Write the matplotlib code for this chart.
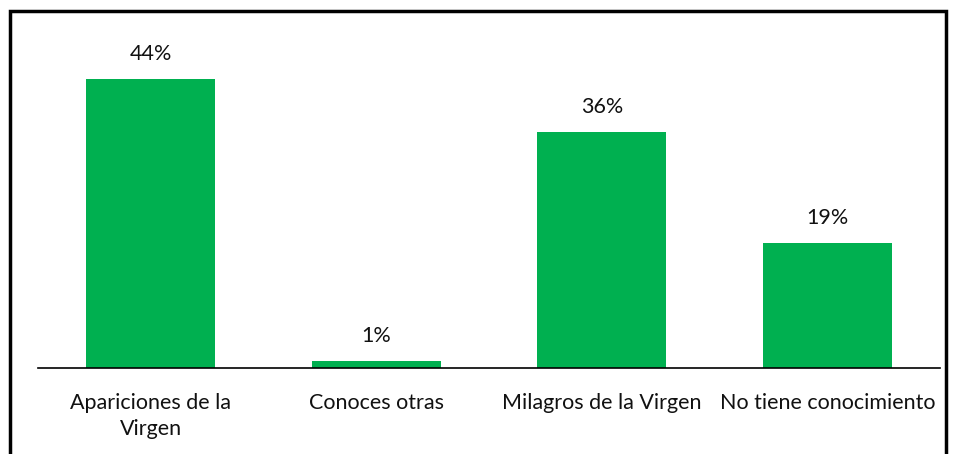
import matplotlib.pyplot as plt
from matplotlib.patches import Rectangle

categories = ['Apariciones de la\nVirgen', 'Conoces otras', 'Milagros de la Virgen', 'No tiene conocimiento']
values = [44, 1, 36, 19]
labels = ['44%', '1%', '36%', '19%']

plt.rcParams['font.family'] = ['Lato', 'DejaVu Sans']

W, H = 957, 454
fig = plt.figure(figsize=(W / 100, H / 100), dpi=100)
ax = fig.add_axes([38 / W, 1 - 368 / H, (940 - 38) / W, (368 - 40) / H])

x = range(len(values))
bars = ax.bar(x, values, width=0.572, color='#00B050')
for b, lab in zip(bars, labels):
    ax.annotate(lab, (b.get_x() + b.get_width() / 2, b.get_height()),
                xytext=(0, 11), textcoords='offset points',
                ha='center', va='bottom', fontsize=15.5, color='#111111')

ax.set_xlim(-0.5, 3.5)
ax.set_ylim(0, 50)
ax.set_xticks(list(x))
ax.set_xticklabels(categories, fontsize=15.5, color='#111111', linespacing=1.4)
ax.tick_params(axis='x', length=0, pad=18)
ax.set_yticks([])
for s in ['top', 'right', 'left']:
    ax.spines[s].set_visible(False)
ax.spines['bottom'].set_linewidth(1.2)

# outer frame (bottom edge is cut off in the original)
fig.patches.append(Rectangle((9.5 / W, -0.1), (946 - 9.5) / W, 1.1 - 11 / H,
                             transform=fig.transFigure, fill=False,
                             edgecolor='black', linewidth=2.5))

fig.savefig('out.png', dpi=100)
